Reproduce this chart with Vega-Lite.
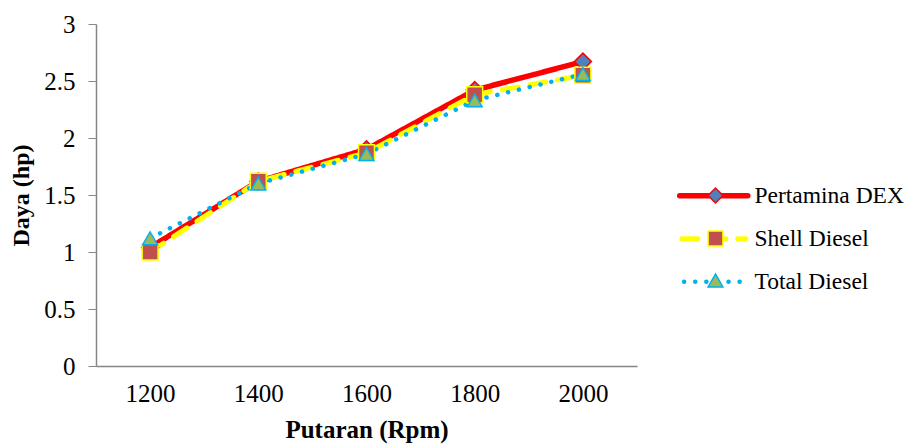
{
  "$schema": "https://vega.github.io/schema/vega-lite/v6.json",
  "width": 541,
  "height": 342,
  "autosize": {"type": "none"},
  "padding": {"left": 96, "top": 24, "right": 272, "bottom": 78},
  "background": "white",
  "config": {
    "view": {"stroke": null},
    "font": "Liberation Serif"
  },
  "data": {
    "values": [
      {"rpm": "1200", "series": "Pertamina DEX", "daya": 1.04},
      {"rpm": "1400", "series": "Pertamina DEX", "daya": 1.62},
      {"rpm": "1600", "series": "Pertamina DEX", "daya": 1.9},
      {"rpm": "1800", "series": "Pertamina DEX", "daya": 2.42},
      {"rpm": "2000", "series": "Pertamina DEX", "daya": 2.67},
      {"rpm": "1200", "series": "Shell Diesel", "daya": 1.0},
      {"rpm": "1400", "series": "Shell Diesel", "daya": 1.62},
      {"rpm": "1600", "series": "Shell Diesel", "daya": 1.87},
      {"rpm": "1800", "series": "Shell Diesel", "daya": 2.38},
      {"rpm": "2000", "series": "Shell Diesel", "daya": 2.55},
      {"rpm": "1200", "series": "Total Diesel", "daya": 1.12},
      {"rpm": "1400", "series": "Total Diesel", "daya": 1.6},
      {"rpm": "1600", "series": "Total Diesel", "daya": 1.86},
      {"rpm": "1800", "series": "Total Diesel", "daya": 2.33},
      {"rpm": "2000", "series": "Total Diesel", "daya": 2.56}
    ]
  },
  "encoding": {
    "x": {
      "field": "rpm",
      "type": "ordinal",
      "scale": {"type": "point", "padding": 0.5},
      "axis": {
        "title": "Putaran (Rpm)",
        "titleFont": "Liberation Serif",
        "titleFontSize": 25,
        "titleFontWeight": "bold",
        "titleColor": "black",
        "titlePadding": 11,
        "labelFont": "Liberation Serif",
        "labelFontSize": 25,
        "labelColor": "black",
        "labelAngle": 0,
        "labelPadding": 15,
        "ticks": false,
        "domainColor": "#868686",
        "domainWidth": 1.5,
        "grid": false
      }
    },
    "y": {
      "field": "daya",
      "type": "quantitative",
      "scale": {"domain": [0, 3], "nice": false},
      "axis": {
        "title": "Daya (hp)",
        "titleFont": "Liberation Serif",
        "titleFontSize": 24,
        "titleFontWeight": "bold",
        "titleColor": "black",
        "titlePadding": 10,
        "values": [0, 0.5, 1, 1.5, 2, 2.5, 3],
        "format": "~g",
        "labelFont": "Liberation Serif",
        "labelFontSize": 25,
        "labelColor": "black",
        "labelPadding": 13,
        "tickSize": 8,
        "tickColor": "#868686",
        "domainColor": "#868686",
        "domainWidth": 1.5,
        "grid": false
      }
    }
  },
  "layer": [
    {
      "mark": {"type": "line", "strokeCap": "round", "strokeJoin": "round"},
      "encoding": {
        "color": {
          "field": "series",
          "type": "nominal",
          "scale": {
            "domain": ["Pertamina DEX", "Shell Diesel", "Total Diesel"],
            "range": ["#FF0000", "#FFFF00", "#00B0F0"]
          },
          "legend": {
            "orient": "none",
            "legendX": 606,
            "legendY": 160,
            "title": null,
            "symbolType": "M-4,0H4",
            "symbolSize": 529,
            "symbolStrokeWidth": 5,
            "symbolFillColor": "transparent",
            "labelFont": "Liberation Serif",
            "labelFontSize": 23.5,
            "labelColor": "black",
            "labelOffset": 29,
            "rowPadding": 18,
            "labelLimit": 300,
            "encode": {
              "symbols": {"update": {"strokeCap": {"value": "round"}}}
            }
          }
        },
        "strokeDash": {
          "field": "series",
          "type": "nominal",
          "scale": {
            "domain": ["Pertamina DEX", "Shell Diesel", "Total Diesel"],
            "range": [[1, 0], [16, 12], [0.1, 11]]
          },
          "legend": {
            "orient": "none",
            "legendX": 606,
            "legendY": 160,
            "title": null,
            "symbolType": "M-4,0H4",
            "symbolSize": 529,
            "symbolStrokeWidth": 5,
            "symbolFillColor": "transparent",
            "labelFont": "Liberation Serif",
            "labelFontSize": 23.5,
            "labelColor": "black",
            "labelOffset": 29,
            "rowPadding": 18,
            "labelLimit": 300,
            "encode": {
              "symbols": {"update": {"strokeCap": {"value": "round"}}}
            }
          }
        },
        "strokeWidth": {
          "field": "series",
          "type": "ordinal",
          "scale": {
            "domain": ["Pertamina DEX", "Shell Diesel", "Total Diesel"],
            "range": [5.5, 4.5, 5]
          },
          "legend": null
        }
      }
    },
    {
      "mark": {"type": "point", "filled": true, "opacity": 1, "strokeWidth": 1.5},
      "encoding": {
        "shape": {
          "field": "series",
          "type": "nominal",
          "scale": {
            "domain": ["Pertamina DEX", "Shell Diesel", "Total Diesel"],
            "range": ["diamond", "square", "triangle-up"]
          },
          "legend": {
            "orient": "right",
            "offset": 70,
            "title": " ",
            "titleFontSize": 1,
            "titlePadding": 162,
            "symbolSize": 220,
            "symbolStrokeWidth": 1.5,
            "labelExpr": "''",
            "labelFontSize": 1,
            "labelOffset": 0,
            "rowPadding": 22,
            "encode": {
              "symbols": {
                "update": {
                  "fill": {"scale": "fill", "field": "value"},
                  "stroke": {"scale": "stroke", "field": "value"},
                  "opacity": {"value": 1}
                }
              }
            }
          }
        },
        "size": {
          "field": "series",
          "type": "ordinal",
          "scale": {
            "domain": ["Pertamina DEX", "Shell Diesel", "Total Diesel"],
            "range": [290, 220, 230]
          },
          "legend": null
        },
        "fill": {
          "field": "series",
          "type": "nominal",
          "scale": {
            "domain": ["Pertamina DEX", "Shell Diesel", "Total Diesel"],
            "range": ["#4F81BD", "#C0504D", "#9BBB59"]
          },
          "legend": null
        },
        "stroke": {
          "field": "series",
          "type": "nominal",
          "scale": {
            "domain": ["Pertamina DEX", "Shell Diesel", "Total Diesel"],
            "range": ["#FF0000", "#FFFF00", "#00B0F0"]
          },
          "legend": null
        }
      }
    }
  ]
}
